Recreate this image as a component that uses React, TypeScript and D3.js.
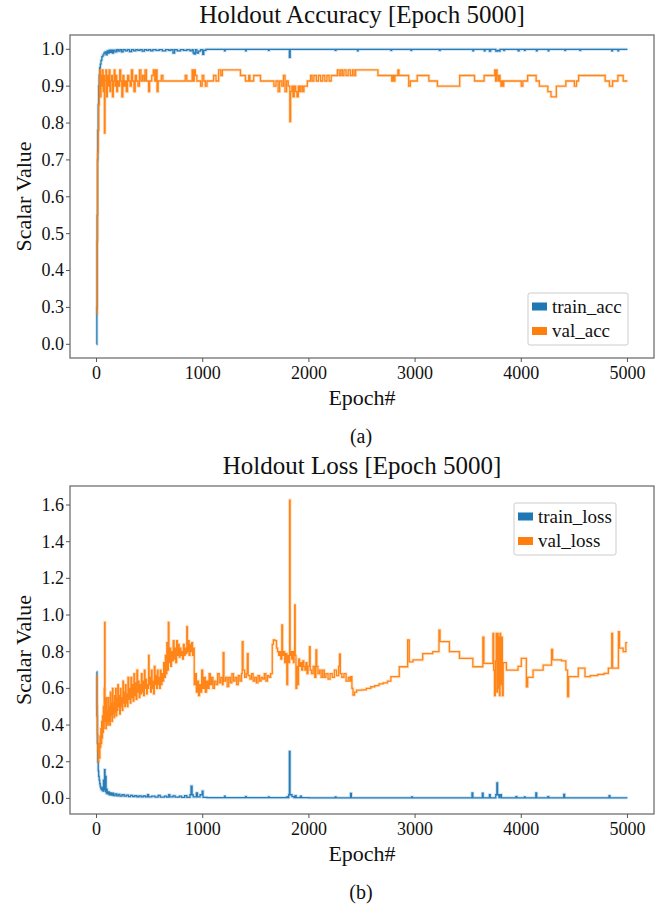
import React from 'react';
import * as d3 from 'd3';

type Pt = [number, number];

const xTicks = [0, 1000, 2000, 3000, 4000, 5000];
const accTicks = [0.0, 0.3, 0.4, 0.5, 0.6, 0.7, 0.8, 0.9, 1.0];
const lossTicks = [0.0, 0.2, 0.4, 0.6, 0.8, 1.0, 1.2, 1.4, 1.6];

const accTitle = 'Holdout Accuracy [Epoch 5000]';
const lossTitle = 'Holdout Loss [Epoch 5000]';
const accNames = ['train_acc', 'val_acc'];
const lossNames = ['train_loss', 'val_loss'];

const trainAcc: Pt[] = [
  [0, 0.0], [3, 0.3], [6, 0.55], [9, 0.7], [12, 0.78], [16, 0.85], [20, 0.9], [25, 0.93], [30, 0.95], [36, 0.96],
  [42, 0.97], [50, 0.98], [60, 0.985], [70, 0.99], [80, 0.993], [90, 0.985], [100, 0.996], [110, 0.99], [120, 0.998],
  [130, 0.992], [140, 0.998], [150, 0.99], [160, 0.998], [175, 0.993], [190, 0.999], [205, 0.995], [220, 0.999],
  [235, 0.993], [250, 0.999], [270, 0.996], [290, 0.999], [310, 0.994], [330, 0.999], [350, 0.996], [370, 0.999],
  [390, 0.997], [410, 0.999], [430, 0.995], [450, 0.999], [470, 0.997], [490, 0.999], [510, 0.996], [530, 0.999],
  [560, 0.997], [590, 0.999], [620, 0.996], [650, 0.999], [680, 0.997], [700, 0.999], [720, 0.99], [735, 0.999],
  [760, 0.996], [790, 0.999], [820, 0.997], [850, 0.999], [880, 0.996], [900, 0.999], [910, 0.99], [920, 0.987],
  [930, 0.999], [945, 0.99], [960, 0.995], [980, 0.999], [1000, 0.986], [1010, 0.997], [1030, 1.0], [1205, 0.996],
  [1212, 1.0], [1403, 0.996], [1410, 1.0], [1619, 0.997], [1626, 1.0], [1816, 0.978], [1824, 1.0], [2248, 0.997],
  [2255, 1.0], [2457, 0.996], [2464, 1.0], [2772, 0.997], [2779, 1.0], [2961, 0.997], [2968, 1.0], [3229, 0.997],
  [3236, 1.0], [3544, 0.996], [3551, 1.0], [3651, 0.996], [3660, 1.0], [3700, 0.995], [3712, 1.0], [3760, 0.995],
  [3775, 0.997], [3790, 0.995], [3800, 1.0], [3835, 0.997], [3842, 1.0], [3970, 0.996], [3980, 1.0], [4030, 0.997],
  [4037, 1.0], [4143, 0.996], [4150, 1.0], [4253, 0.996], [4260, 1.0], [4410, 0.997], [4417, 1.0], [4552, 0.997],
  [4559, 1.0], [4852, 0.996], [4860, 1.0], [4910, 0.996], [4917, 1.0], [5000, 1.0],
];

const valAcc: Pt[] = [
  [0, 0.25], [5, 0.48], [10, 0.72], [15, 0.78], [20, 0.85], [25, 0.9], [30, 0.944], [38, 0.871], [42, 0.929],
  [48, 0.9], [55, 0.944], [62, 0.885], [68, 0.929], [74, 0.773], [80, 0.914], [88, 0.944], [95, 0.871], [102, 0.929],
  [110, 0.9], [118, 0.944], [126, 0.885], [134, 0.914], [142, 0.929], [150, 0.871], [158, 0.914], [166, 0.944],
  [174, 0.9], [182, 0.929], [190, 0.885], [198, 0.914], [208, 0.9], [218, 0.944], [228, 0.914], [238, 0.871],
  [248, 0.929], [258, 0.9], [268, 0.914], [280, 0.885], [292, 0.929], [304, 0.914], [316, 0.9], [328, 0.944],
  [340, 0.914], [352, 0.885], [364, 0.929], [376, 0.914], [390, 0.9], [404, 0.944], [418, 0.914], [432, 0.929],
  [446, 0.914], [457, 0.944], [470, 0.914], [490, 0.885], [500, 0.914], [520, 0.929], [535, 0.944], [548, 0.914],
  [560, 0.944], [570, 0.885], [580, 0.914], [610, 0.929], [625, 0.914], [690, 0.914], [760, 0.914], [835, 0.929],
  [850, 0.914], [900, 0.944], [910, 0.914], [920, 0.944], [930, 0.929], [945, 0.914], [980, 0.9], [995, 0.929],
  [1010, 0.914], [1025, 0.9], [1040, 0.914], [1102, 0.929], [1125, 0.914], [1150, 0.944], [1170, 0.929],
  [1185, 0.944], [1355, 0.929], [1402, 0.914], [1433, 0.929], [1445, 0.914], [1480, 0.929], [1544, 0.914],
  [1670, 0.9], [1690, 0.914], [1710, 0.885], [1725, 0.914], [1745, 0.9], [1760, 0.929], [1775, 0.885],
  [1790, 0.914], [1805, 0.9], [1820, 0.804], [1828, 0.885], [1840, 0.9], [1850, 0.871], [1862, 0.9], [1875, 0.885],
  [1888, 0.871], [1900, 0.9], [1912, 0.885], [1925, 0.9], [1940, 0.885], [1953, 0.9], [1985, 0.914], [2016, 0.929],
  [2030, 0.914], [2047, 0.929], [2070, 0.914], [2090, 0.929], [2110, 0.914], [2130, 0.929], [2150, 0.914],
  [2170, 0.929], [2190, 0.914], [2210, 0.929], [2268, 0.944], [2285, 0.929], [2300, 0.944], [2315, 0.929],
  [2330, 0.944], [2350, 0.929], [2370, 0.944], [2390, 0.929], [2410, 0.944], [2425, 0.929], [2440, 0.944],
  [2650, 0.929], [2780, 0.914], [2790, 0.929], [2800, 0.914], [2810, 0.929], [2838, 0.944], [2848, 0.929],
  [2940, 0.9], [2955, 0.914], [3020, 0.929], [3130, 0.914], [3210, 0.9], [3420, 0.929], [3560, 0.914],
  [3650, 0.929], [3750, 0.944], [3758, 0.914], [3765, 0.944], [3772, 0.929], [3780, 0.914], [3790, 0.929],
  [3800, 0.914], [3808, 0.9], [3815, 0.914], [3825, 0.9], [3835, 0.914], [4000, 0.9], [4015, 0.914], [4060, 0.929],
  [4140, 0.914], [4170, 0.9], [4250, 0.885], [4280, 0.871], [4330, 0.9], [4420, 0.914], [4500, 0.9], [4520, 0.914],
  [4540, 0.929], [4790, 0.914], [4830, 0.9], [4860, 0.914], [4910, 0.929], [4960, 0.914], [5000, 0.914],
];

const trainLoss: Pt[] = [
  [0, 0.69], [4, 0.45], [8, 0.3], [12, 0.2], [16, 0.15], [20, 0.12], [25, 0.1], [30, 0.08], [35, 0.065], [40, 0.055],
  [45, 0.05], [50, 0.045], [55, 0.06], [60, 0.04], [65, 0.1], [70, 0.05], [75, 0.157], [80, 0.04], [85, 0.12],
  [90, 0.03], [95, 0.05], [100, 0.025], [110, 0.035], [120, 0.02], [130, 0.03], [140, 0.018], [150, 0.028],
  [160, 0.015], [175, 0.025], [190, 0.014], [205, 0.022], [220, 0.012], [240, 0.02], [260, 0.012], [280, 0.018],
  [300, 0.01], [320, 0.017], [340, 0.01], [360, 0.015], [380, 0.009], [400, 0.014], [420, 0.008], [440, 0.013],
  [460, 0.008], [480, 0.02], [490, 0.008], [520, 0.012], [550, 0.007], [580, 0.016], [600, 0.007], [640, 0.012],
  [660, 0.007], [680, 0.02], [690, 0.008], [720, 0.014], [740, 0.007], [780, 0.012], [800, 0.006], [830, 0.015],
  [850, 0.006], [880, 0.02], [890, 0.067], [900, 0.02], [910, 0.008], [940, 0.03], [950, 0.008], [975, 0.02],
  [995, 0.04], [1003, 0.006], [1040, 0.004], [1205, 0.012], [1212, 0.004], [1403, 0.01], [1410, 0.004],
  [1619, 0.008], [1626, 0.004], [1790, 0.008], [1800, 0.004], [1810, 0.02], [1816, 0.256], [1822, 0.02],
  [1840, 0.01], [1860, 0.004], [1870, 0.015], [1880, 0.004], [1920, 0.012], [1930, 0.004], [2000, 0.003],
  [2248, 0.008], [2255, 0.003], [2392, 0.027], [2400, 0.003], [2968, 0.008], [2975, 0.003], [3536, 0.03],
  [3544, 0.003], [3633, 0.028], [3641, 0.003], [3700, 0.02], [3708, 0.003], [3760, 0.02], [3770, 0.085],
  [3777, 0.02], [3790, 0.005], [3800, 0.02], [3813, 0.003], [3950, 0.01], [3958, 0.003], [4030, 0.008],
  [4037, 0.003], [4137, 0.03], [4145, 0.003], [4250, 0.01], [4258, 0.003], [4400, 0.022], [4408, 0.003],
  [4827, 0.015], [4835, 0.003], [5000, 0.003],
];

const valLoss: Pt[] = [
  [0, 0.67], [4, 0.5], [8, 0.35], [12, 0.26], [16, 0.2], [20, 0.24], [24, 0.3], [28, 0.22], [32, 0.34], [36, 0.28],
  [40, 0.38], [44, 0.3], [48, 0.42], [52, 0.33], [56, 0.45], [60, 0.36], [64, 0.5], [68, 0.38], [72, 0.6],
  [76, 0.96], [80, 0.42], [84, 0.5], [88, 0.38], [92, 0.55], [96, 0.42], [100, 0.48], [105, 0.4], [110, 0.55],
  [115, 0.42], [120, 0.5], [125, 0.4], [130, 0.58], [135, 0.45], [140, 0.52], [145, 0.42], [150, 0.6], [155, 0.46],
  [160, 0.52], [165, 0.44], [170, 0.56], [175, 0.47], [180, 0.6], [185, 0.45], [190, 0.55], [195, 0.48], [200, 0.62],
  [206, 0.5], [212, 0.56], [218, 0.46], [224, 0.6], [230, 0.5], [236, 0.55], [242, 0.48], [248, 0.64], [254, 0.52],
  [260, 0.58], [266, 0.5], [272, 0.62], [278, 0.52], [284, 0.57], [290, 0.5], [296, 0.66], [303, 0.54], [310, 0.6],
  [317, 0.52], [324, 0.66], [331, 0.55], [338, 0.62], [345, 0.53], [352, 0.68], [359, 0.56], [366, 0.63],
  [373, 0.54], [380, 0.7], [387, 0.58], [394, 0.64], [401, 0.55], [408, 0.62], [415, 0.57], [422, 0.68],
  [429, 0.58], [436, 0.64], [443, 0.56], [450, 0.7], [457, 0.6], [464, 0.65], [471, 0.57], [478, 0.62], [485, 0.6],
  [490, 0.78], [495, 0.62], [502, 0.66], [509, 0.58], [516, 0.7], [523, 0.6], [530, 0.64], [537, 0.57], [544, 0.72],
  [551, 0.62], [558, 0.67], [565, 0.6], [572, 0.7], [579, 0.62], [586, 0.66], [593, 0.6], [600, 0.7], [608, 0.62],
  [616, 0.68], [624, 0.64], [632, 0.74], [640, 0.66], [648, 0.78], [655, 0.68], [662, 0.85], [670, 0.7],
  [676, 0.96], [682, 0.74], [690, 0.82], [698, 0.72], [706, 0.8], [714, 0.75], [722, 0.86], [730, 0.76],
  [738, 0.82], [746, 0.74], [754, 0.86], [762, 0.78], [770, 0.84], [778, 0.77], [786, 0.82], [794, 0.78],
  [802, 0.8], [810, 0.76], [818, 0.84], [826, 0.78], [834, 0.82], [842, 0.79], [850, 0.936], [856, 0.8],
  [864, 0.86], [872, 0.78], [880, 0.84], [888, 0.8], [896, 0.85], [904, 0.78], [912, 0.82], [920, 0.62],
  [930, 0.68], [940, 0.58], [950, 0.64], [960, 0.56], [970, 0.62], [980, 0.58], [990, 0.7], [1000, 0.6],
  [1012, 0.66], [1024, 0.58], [1036, 0.64], [1048, 0.6], [1060, 0.68], [1072, 0.62], [1084, 0.66], [1096, 0.6],
  [1110, 0.64], [1125, 0.62], [1140, 0.68], [1155, 0.63], [1170, 0.66], [1185, 0.62], [1192, 0.795], [1200, 0.64],
  [1215, 0.66], [1230, 0.61], [1245, 0.66], [1260, 0.63], [1275, 0.68], [1290, 0.64], [1305, 0.66], [1320, 0.62],
  [1335, 0.67], [1350, 0.64], [1365, 0.68], [1372, 0.855], [1380, 0.7], [1395, 0.66], [1410, 0.68], [1420, 0.79],
  [1428, 0.67], [1445, 0.65], [1460, 0.68], [1475, 0.64], [1490, 0.66], [1505, 0.63], [1520, 0.67], [1535, 0.64],
  [1550, 0.66], [1565, 0.65], [1580, 0.68], [1595, 0.64], [1610, 0.67], [1625, 0.66], [1640, 0.68], [1655, 0.84],
  [1665, 0.864], [1680, 0.86], [1695, 0.82], [1705, 0.8], [1715, 0.78], [1725, 0.8], [1735, 0.76], [1745, 0.946],
  [1752, 0.78], [1762, 0.8], [1772, 0.74], [1782, 0.79], [1792, 0.62], [1800, 0.78], [1810, 0.74], [1818, 1.627],
  [1823, 0.78], [1830, 0.8], [1838, 0.76], [1846, 0.8], [1854, 0.74], [1860, 0.78], [1866, 1.055], [1871, 0.78],
  [1878, 0.6], [1886, 0.72], [1894, 0.62], [1902, 0.76], [1912, 0.72], [1922, 0.74], [1932, 0.7], [1942, 0.75],
  [1952, 0.72], [1962, 0.7], [1972, 0.74], [1982, 0.68], [1992, 0.72], [2005, 0.827], [2012, 0.7], [2025, 0.68],
  [2040, 0.72], [2055, 0.66], [2066, 0.81], [2074, 0.72], [2085, 0.68], [2100, 0.7], [2115, 0.66], [2130, 0.7],
  [2145, 0.66], [2160, 0.68], [2180, 0.65], [2200, 0.68], [2220, 0.66], [2240, 0.7], [2260, 0.67], [2280, 0.72],
  [2288, 0.787], [2296, 0.68], [2310, 0.66], [2330, 0.68], [2350, 0.64], [2370, 0.66], [2385, 0.64],
  [2394, 0.664], [2405, 0.6], [2415, 0.564], [2430, 0.58], [2450, 0.59], [2500, 0.592], [2540, 0.6],
  [2583, 0.609], [2620, 0.615], [2660, 0.625], [2700, 0.63], [2740, 0.64], [2772, 0.664], [2851, 0.718],
  [2930, 0.864], [2945, 0.745], [2980, 0.755], [3072, 0.79], [3166, 0.8], [3225, 0.918], [3235, 0.855],
  [3323, 0.8], [3418, 0.764], [3544, 0.718], [3638, 0.88], [3648, 0.736], [3733, 0.9], [3740, 0.7], [3748, 0.56],
  [3756, 0.75], [3764, 0.9], [3770, 0.58], [3776, 0.9], [3782, 0.6], [3788, 0.88], [3794, 0.56], [3800, 0.9],
  [3806, 0.62], [3814, 0.88], [3822, 0.56], [3830, 0.74], [3860, 0.7], [3970, 0.72], [4000, 0.764], [4048, 0.609],
  [4060, 0.66], [4111, 0.7], [4206, 0.727], [4285, 0.813], [4295, 0.755], [4379, 0.75], [4420, 0.7],
  [4436, 0.555], [4446, 0.664], [4537, 0.71], [4600, 0.664], [4650, 0.67], [4720, 0.676], [4780, 0.682],
  [4820, 0.71], [4852, 0.9], [4860, 0.71], [4915, 0.909], [4925, 0.82], [4960, 0.8], [4985, 0.849], [5000, 0.849],
];

const BLUE = '#1f77b4';
const ORANGE = '#ff7f0e';
const FONT = 'Liberation Serif, DejaVu Serif, serif';

const FL = 70;
const FR = 654;
const xScale = d3.scaleLinear().domain([-250, 5250]).range([FL, FR]);

interface PanelProps {
  top: number;
  bottom: number;
  y: d3.ScaleLinear<number, number>;
  yTicks: number[];
  series: Pt[][];
  names: string[];
  title: string;
  caption: string;
  legend: { x: number; y: number; w: number };
  clipId: string;
}

function Panel({ top, bottom, y, yTicks, series, names, title, caption, legend, clipId }: PanelProps) {
  const colors = [BLUE, ORANGE];
  const line = d3
    .line<Pt>()
    .x((d) => xScale(d[0]))
    .y((d) => y(d[1]))
    .curve(d3.curveStepAfter);
  const fmt = d3.format('.1f');
  const mid = (FL + FR) / 2;
  const txt = { fontFamily: FONT, fill: '#111' } as const;
  return (
    <g>
      <defs>
        <clipPath id={clipId}>
          <rect x={FL} y={top} width={FR - FL} height={bottom - top} />
        </clipPath>
      </defs>
      <text x={mid} y={top - 12} textAnchor="middle" fontSize={25} style={txt}>
        {title}
      </text>
      <g clipPath={`url(#${clipId})`}>
        {series.map((s, i) => (
          <g key={i}>
            <path d={line(s) || ''} fill="none" stroke={colors[i]} strokeWidth={3} strokeOpacity={0.22} />
            <path d={line(s) || ''} fill="none" stroke={colors[i]} strokeWidth={1.3} strokeOpacity={0.95} />
          </g>
        ))}
      </g>
      <rect x={FL} y={top} width={FR - FL} height={bottom - top} fill="none" stroke="#707070" strokeWidth={1.3} />
      {yTicks.map((t) => (
        <g key={'y' + t}>
          <line x1={FL - 4} x2={FL} y1={y(t)} y2={y(t)} stroke="#555" strokeWidth={1} />
          <text x={FL - 6} y={y(t)} dy="0.33em" textAnchor="end" fontSize={18} style={txt}>
            {fmt(t)}
          </text>
        </g>
      ))}
      {xTicks.map((t) => (
        <g key={'x' + t}>
          <line x1={xScale(t)} x2={xScale(t)} y1={bottom} y2={bottom + 4} stroke="#555" strokeWidth={1} />
          <text x={xScale(t)} y={bottom + 21} textAnchor="middle" fontSize={18} style={txt}>
            {t}
          </text>
        </g>
      ))}
      <text
        transform={`translate(${24},${(top + bottom) / 2}) rotate(-90)`}
        textAnchor="middle"
        dy="0.33em"
        fontSize={22}
        style={txt}
      >
        Scalar Value
      </text>
      <text x={mid} y={bottom + 47} textAnchor="middle" fontSize={22} style={txt}>
        Epoch#
      </text>
      <text x={mid - 1} y={bottom + 85} textAnchor="middle" fontSize={20} style={txt}>
        {caption}
      </text>
      <g transform={`translate(${legend.x},${legend.y})`}>
        <rect x={0} y={0} width={legend.w} height={52} rx={2} fill="#fff" fillOpacity={0.9} stroke="#cccccc" strokeWidth={1} />
        {names.map((n, i) => (
          <g key={n} transform={`translate(0,${13.5 + i * 24.5})`}>
            <rect x={4} y={-4} width={15} height={8} fill={colors[i]} />
            <text x={24} y={0} dy="0.33em" fontSize={19} style={txt}>
              {n}
            </text>
          </g>
        ))}
      </g>
    </g>
  );
}

export default function App() {
  const yAcc = d3.scaleLinear().domain([0, 0.3, 1.0]).range([344.3, 307.4, 49.3]);
  const yLoss = d3.scaleLinear().domain([0, 1.6]).range([798.4, 505]);
  return (
    <svg
      width={663}
      height={907}
      viewBox="0 0 663 907"
      style={{ position: 'absolute', left: 0, top: 0, background: '#fff' }}
    >
      <rect x={0} y={0} width={663} height={907} fill="#fff" />
      <Panel
        top={35}
        bottom={358}
        y={yAcc}
        yTicks={accTicks}
        series={[trainAcc, valAcc]}
        names={accNames}
        title={accTitle}
        caption="(a)"
        legend={{ x: 528, y: 293, w: 100 }}
        clipId="clipAcc"
      />
      <Panel
        top={486}
        bottom={814}
        y={yLoss}
        yTicks={lossTicks}
        series={[trainLoss, valLoss]}
        names={lossNames}
        title={lossTitle}
        caption="(b)"
        legend={{ x: 514, y: 503, w: 102 }}
        clipId="clipLoss"
      />
    </svg>
  );
}
